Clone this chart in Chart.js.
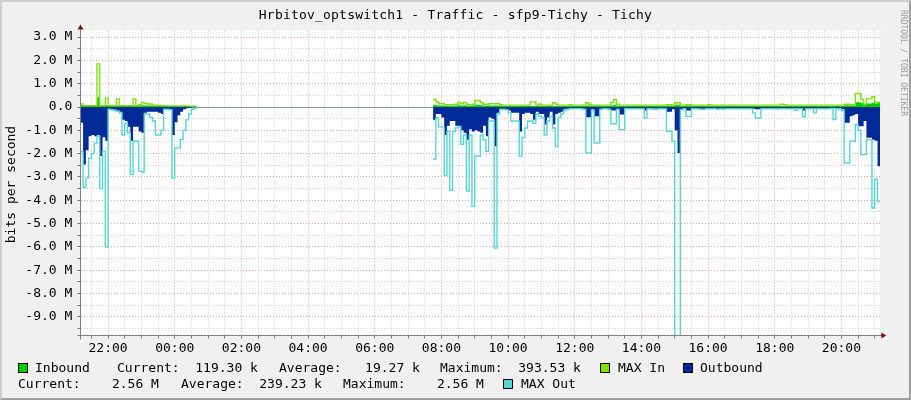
<!DOCTYPE html>
<html>
<head>
<meta charset="utf-8">
<script src="https://cdn.jsdelivr.net/npm/chart.js@4/dist/chart.umd.min.js"></script>
<style>
html,body{margin:0;padding:0;background:#F0F0F0;}
#wrap{position:relative;width:911px;height:400px;background:#F0F0F0;overflow:hidden;font-family:"DejaVu Sans Mono",monospace;color:#000;}
#c{position:absolute;left:0;top:0;}
.t{position:absolute;white-space:pre;font-size:13px;line-height:13px;}
.sq{position:absolute;width:8px;height:8px;border:1px solid #000;}
#frame{position:absolute;left:0;top:0;width:911px;height:400px;box-sizing:border-box;border-top:2px solid #CFCFCF;border-left:2px solid #CFCFCF;border-right:2px solid #9E9E9E;border-bottom:2px solid #9E9E9E;pointer-events:none;}
</style>
</head>
<body>
<div id="wrap">
<canvas id="c" width="911" height="400"></canvas>
<div class="t" style="left:0;width:911px;top:8px;text-align:center;letter-spacing:0.2px;">Hrbitov_optswitch1 - Traffic - sfp9-Tichy - Tichy</div>
<div class="t" style="left:-60px;width:140px;top:178px;text-align:center;transform:rotate(-90deg);">bits per second</div>
<div class="t" style="left:843px;width:120px;top:59px;text-align:center;font-size:8px;line-height:8px;color:#9C9C9C;transform:rotate(90deg);">RRDTOOL / TOBI OETIKER</div>

<div class="sq" style="left:18px;top:363px;background:#00CF00;"></div>
<div class="t" style="left:35px;top:361px;">Inbound</div>
<div class="t" style="left:117px;top:361px;">Current:  119.30 k</div>
<div class="t" style="left:279px;top:361px;">Average:   19.27 k</div>
<div class="t" style="left:440px;top:361px;">Maximum:  393.53 k</div>
<div class="sq" style="left:600px;top:363px;background:#7EE000;"></div>
<div class="t" style="left:618px;top:361px;">MAX In</div>
<div class="sq" style="left:683px;top:363px;background:#002A97;"></div>
<div class="t" style="left:700px;top:361px;">Outbound</div>

<div class="t" style="left:18px;top:377px;">Current:    2.56 M</div>
<div class="t" style="left:181px;top:377px;">Average:  239.23 k</div>
<div class="t" style="left:343px;top:377px;">Maximum:    2.56 M</div>
<div class="sq" style="left:503px;top:379px;background:#55D6D3;"></div>
<div class="t" style="left:521px;top:377px;">MAX Out</div>
<div id="frame"></div>
</div>
<script>
// ---- time base ----
const clockStartMinutes = 21 * 60 + 10;   // 21:10
const stepMinutes = 5;
const totalSteps = 288;                   // 24 h
const seg1Start = 0;                      // first data block (index)
const seg2Start = 127;                    // second data block (index)

// ---- tick labels ----
const xTickLabels = ['22:00','00:00','02:00','04:00','06:00','08:00','10:00','12:00','14:00','16:00','18:00','20:00'];
const yTickValues = [3, 2, 1, 0, -1, -2, -3, -4, -5, -6, -7, -8, -9];
const yTickLabels = ['3.0 M','2.0 M','1.0 M','0.0','-1.0 M','-2.0 M','-3.0 M','-4.0 M','-5.0 M','-6.0 M','-7.0 M','-8.0 M','-9.0 M'];

// ---- series values (M bits/s), 5-minute samples ----
const inboundSeg1 = [
  0.08,0.05,0.05,0.05,0.05,0.05,0.42,0.05,0.05,0.08,
  0.05,0.05,0.05,0.06,0.05,0.05,0.05,0.05,0.05,0.06,
  0.05,0.06,0.08,0.06,0.06,0.06,0.05,0.05,0.05,0.05,
  0.04,0.04,0.04,0.04,0.04,0.04,0.04,0.04,0.04,0.04,
  0.03,0.03];
const maxInSeg1 = [
  0.13,0.06,0.06,0.06,0.06,0.06,1.85,0.06,0.06,0.38,
  0.06,0.06,0.06,0.35,0.06,0.06,0.06,0.06,0.06,0.35,
  0.06,0.10,0.20,0.15,0.13,0.13,0.08,0.08,0.06,0.06,
  0.05,0.05,0.05,0.05,0.05,0.05,0.05,0.05,0.05,0.04,
  0.04,0.04];
const outboundSeg1 = [
  -0.68,-2.47,-1.85,-1.25,-1.2,-1.25,-1.2,-2.1,-1.3,-1.45,
  -0.08,-0.1,-0.12,-0.15,-0.2,-0.55,-0.6,-0.85,-1.45,-0.85,
  -0.85,-1.05,-1.1,-0.25,-0.2,-0.2,-0.2,-0.2,-0.25,-0.3,
  -0.08,-0.08,-0.1,-1.2,-0.65,-0.35,-0.2,-0.1,-0.05,-0.03,
  -0.02,-0.01];
const maxOutSeg1 = [
  -1.9,-3.45,-3.05,-2.2,-2.0,-1.55,-1.25,-3.5,-1.9,-6.0,
  -0.1,-0.12,-0.15,-0.18,-0.25,-1.2,-0.7,-1.1,-2.9,-1.47,
  -1.47,-2.75,-2.8,-0.3,-0.3,-0.45,-0.6,-1.2,-1.2,-1.0,
  -0.1,-0.1,-0.12,-3.05,-1.75,-1.75,-1.4,-1.0,-0.55,-0.3,
  -0.1,-0.05];

const inboundSeg2 = [
  0.10,0.08,0.06,0.06,0.05,0.05,0.05,0.05,0.06,0.08,
  0.06,0.08,0.06,0.05,0.06,0.10,0.10,0.08,0.06,0.06,
  0.06,0.06,0.06,0.06,0.05,0.04,0.04,0.04,0.04,0.04,
  0.04,0.04,0.04,0.04,0.04,0.04,0.04,0.04,0.04,0.04,
  0.04,0.04,0.04,0.04,0.04,0.04,0.04,0.04,0.04,0.04,
  0.04,0.04,0.04,0.04,0.04,0.06,0.06,0.04,0.05,0.05,
  0.04,0.04,0.04,0.04,0.06,0.10,0.05,0.04,0.04,0.04,
  0.04,0.04,0.04,0.04,0.04,0.04,0.04,0.04,0.04,0.04,
  0.04,0.04,0.04,0.04,0.05,0.05,0.04,0.10,0.10,0.04,
  0.04,0.07,0.07,0.04,0.04,0.04,0.04,0.04,0.04,0.04,
  0.04,0.04,0.04,0.04,0.04,0.04,0.04,0.04,0.04,0.04,
  0.04,0.04,0.04,0.04,0.04,0.04,0.04,0.04,0.04,0.04,
  0.04,0.04,0.04,0.04,0.04,0.04,0.04,0.04,0.04,0.04,
  0.04,0.04,0.04,0.04,0.04,0.04,0.04,0.04,0.04,0.04,
  0.04,0.04,0.04,0.04,0.04,0.04,0.04,0.04,0.08,0.08,
  0.06,0.06,0.20,0.20,0.18,0.10,0.15,0.15,0.18,0.15,
  0.18];
const maxInSeg2 = [
  0.32,0.22,0.14,0.14,0.10,0.10,0.10,0.10,0.12,0.20,
  0.14,0.20,0.12,0.10,0.12,0.28,0.28,0.18,0.12,0.12,
  0.14,0.14,0.14,0.14,0.10,0.08,0.08,0.08,0.08,0.08,
  0.08,0.08,0.08,0.08,0.08,0.22,0.22,0.08,0.12,0.08,
  0.08,0.08,0.08,0.18,0.12,0.08,0.08,0.08,0.08,0.10,
  0.08,0.08,0.08,0.08,0.08,0.18,0.12,0.08,0.08,0.08,
  0.08,0.08,0.08,0.08,0.20,0.32,0.12,0.08,0.08,0.08,
  0.08,0.08,0.08,0.08,0.08,0.08,0.08,0.08,0.08,0.08,
  0.08,0.08,0.08,0.08,0.10,0.10,0.08,0.18,0.18,0.08,
  0.08,0.10,0.10,0.08,0.08,0.08,0.08,0.08,0.08,0.10,
  0.08,0.08,0.08,0.08,0.08,0.08,0.08,0.08,0.08,0.08,
  0.08,0.08,0.08,0.08,0.08,0.08,0.08,0.08,0.08,0.08,
  0.08,0.08,0.08,0.08,0.08,0.12,0.10,0.08,0.08,0.08,
  0.08,0.08,0.08,0.08,0.08,0.08,0.08,0.08,0.08,0.08,
  0.08,0.08,0.08,0.08,0.08,0.08,0.08,0.08,0.12,0.12,
  0.10,0.10,0.58,0.58,0.32,0.12,0.35,0.35,0.44,0.20,
  0.20];
const outboundSeg2 = [
  -0.55,-0.3,-0.3,-0.45,-1.2,-0.8,-0.6,-0.6,-0.8,-0.8,
  -1.0,-1.1,-1.4,-0.95,-1.05,-1.0,-1.05,-1.1,-0.8,-1.25,
  -0.45,-0.5,-1.68,-0.25,-0.07,-0.07,-0.1,-0.15,-0.25,-0.25,
  -0.25,-1.05,-0.3,-0.25,-0.25,-0.3,-0.55,-0.2,-0.3,-0.3,
  -0.75,-0.45,-0.2,-0.75,-0.3,-0.25,-0.2,-0.1,-0.08,-0.06,
  -0.06,-0.05,-0.05,-0.06,-0.08,-0.44,-0.44,-0.1,-0.4,-0.4,
  -0.08,-0.06,-0.06,-0.08,-0.15,-0.15,-0.08,-0.32,-0.32,-0.06,
  -0.06,-0.06,-0.06,-0.06,-0.06,-0.06,-0.15,-0.06,-0.06,-0.06,
  -0.06,-0.06,-0.06,-0.06,-0.2,-0.2,-0.1,-1.0,-1.97,-0.1,
  -0.06,-0.15,-0.15,-0.06,-0.06,-0.06,-0.08,-0.08,-0.06,-0.06,
  -0.06,-0.06,-0.08,-0.06,-0.06,-0.06,-0.06,-0.06,-0.06,-0.06,
  -0.06,-0.06,-0.06,-0.06,-0.06,-0.08,-0.1,-0.1,-0.06,-0.06,
  -0.06,-0.06,-0.06,-0.06,-0.06,-0.06,-0.06,-0.06,-0.06,-0.06,
  -0.06,-0.06,-0.06,-0.15,-0.06,-0.06,-0.06,-0.06,-0.06,-0.06,
  -0.06,-0.06,-0.06,-0.04,-0.05,-0.05,-0.05,-0.1,-0.68,-0.68,
  -0.4,-0.35,-0.3,-0.82,-0.82,-0.6,-1.32,-1.32,-1.4,-1.45,
  -2.54];
const maxOutSeg2 = [
  -2.23,-0.47,-0.85,-0.85,-2.93,-1.05,-3.57,-1.05,-0.9,-0.85,
  -1.6,-1.2,-3.6,-1.2,-4.26,-2.1,-2.1,-1.2,-1.4,-1.9,
  -0.6,-0.6,-6.05,-0.3,-0.1,-0.1,-0.12,-0.25,-0.6,-0.6,
  -0.6,-2.1,-1.3,-0.9,-0.6,-0.6,-0.7,-0.3,-0.4,-0.45,
  -1.2,-0.6,-0.4,-0.9,-1.7,-0.45,-0.3,-0.15,-0.1,-0.08,
  -0.08,-0.07,-0.07,-0.08,-0.1,-1.97,-1.97,-0.15,-1.54,-1.54,
  -0.1,-0.08,-0.08,-0.1,-0.72,-0.72,-0.1,-0.97,-0.97,-0.08,
  -0.08,-0.08,-0.08,-0.08,-0.08,-0.08,-0.47,-0.08,-0.08,-0.1,
  -0.1,-0.08,-0.08,-0.08,-1.04,-1.04,-1.47,-10.5,-10.5,-0.12,
  -0.08,-0.4,-0.4,-0.08,-0.08,-0.08,-0.1,-0.1,-0.08,-0.08,
  -0.08,-0.08,-0.1,-0.08,-0.1,-0.08,-0.08,-0.08,-0.08,-0.08,
  -0.08,-0.08,-0.08,-0.08,-0.08,-0.25,-0.47,-0.47,-0.08,-0.08,
  -0.08,-0.08,-0.08,-0.08,-0.08,-0.08,-0.08,-0.08,-0.08,-0.08,
  -0.15,-0.08,-0.08,-0.42,-0.08,-0.08,-0.08,-0.25,-0.08,-0.08,
  -0.08,-0.08,-0.08,-0.06,-0.54,-0.1,-0.1,-0.15,-2.4,-2.4,
  -1.47,-1.47,-0.75,-1.0,-2.04,-2.04,-1.4,-1.4,-4.33,-3.1,
  -4.05];

// ---- helpers ----
function seriesFrom(seg1, seg2) {
  const arr = new Array(totalSteps).fill(null);
  seg1.forEach((v, k) => { arr[seg1Start + k] = v; });
  seg2.forEach((v, k) => { arr[seg2Start + k] = v; });
  return arr;
}
function stepPoints(arr) {
  const pts = [];
  for (let i = 0; i < arr.length; i++) {
    const v = arr[i];
    if (v === null) { pts.push({x: i * stepMinutes, y: null}); continue; }
    pts.push({x: i * stepMinutes, y: v});
    if (i === arr.length - 1 || arr[i + 1] === null) pts.push({x: (i + 1) * stepMinutes, y: v});
  }
  return pts;
}
function labelMinute(lbl) {
  const [h, m] = lbl.split(':').map(Number);
  return ((h * 60 + m - clockStartMinutes) % 1440 + 1440) % 1440;
}
const xMajor = xTickLabels.map(labelMinute);
const xTicks = [];
for (let m = xMajor[0] - 30; m < totalSteps * stepMinutes; m += 30) if (m > 0) xTicks.push(m);
const yTicks = [];
for (let k = 6; k >= -19; k--) yTicks.push(k / 2);

const majorGrid = '#EBA5A5';
const minorGrid = '#CDCDCD';
const axisColor = '#7F7F7F';
const fontSpec = {family: '"DejaVu Sans Mono", monospace', size: 13};

const bgPlugin = {
  id: 'canvasBg',
  beforeDraw(chart) {
    const {ctx, chartArea: a} = chart;
    ctx.save(); ctx.fillStyle = '#FFFFFF';
    ctx.fillRect(a.left, a.top, a.right - a.left, a.bottom - a.top);
    ctx.restore();
  }
};
const arrowPlugin = {
  id: 'arrows',
  afterDraw(chart) {
    const {ctx, chartArea: a} = chart;
    const L = Math.floor(a.left) + 0.5, B = Math.floor(a.bottom) + 0.5;
    ctx.save();
    ctx.strokeStyle = axisColor; ctx.lineWidth = 1;
    ctx.beginPath(); ctx.moveTo(L, B + 4); ctx.lineTo(L, a.top - 2); ctx.stroke();
    ctx.beginPath(); ctx.moveTo(L - 3, B); ctx.lineTo(a.right + 2, B); ctx.stroke();
    ctx.fillStyle = '#7A1010';
    ctx.beginPath(); ctx.moveTo(a.right + 6, B); ctx.lineTo(a.right + 1, B - 3); ctx.lineTo(a.right + 1, B + 3); ctx.closePath(); ctx.fill();
    ctx.beginPath(); ctx.moveTo(L, a.top - 6); ctx.lineTo(L - 3, a.top - 1); ctx.lineTo(L + 3, a.top - 1); ctx.closePath(); ctx.fill();
    ctx.restore();
  }
};

const isMajorX = v => xMajor.includes(v);
const xLabel = v => { const k = xMajor.indexOf(v); return k >= 0 ? xTickLabels[k] : ''; };
const yLabel = v => { const k = yTickValues.indexOf(v); return k >= 0 ? yTickLabels[k] : ''; };

new Chart(document.getElementById('c'), {
  type: 'line',
  data: {
    datasets: [
      {label: 'MAX Out', data: stepPoints(seriesFrom(maxOutSeg1, maxOutSeg2)), borderColor: '#55D6D3', borderWidth: 1.4, fill: false, stepped: true, spanGaps: false, order: 0},
      {label: 'Outbound', data: stepPoints(seriesFrom(outboundSeg1, outboundSeg2)), borderWidth: 0, backgroundColor: '#002A97', fill: 'origin', stepped: true, spanGaps: false, order: 1},
      {label: 'MAX In', data: stepPoints(seriesFrom(maxInSeg1, maxInSeg2)), borderColor: '#7EE000', borderWidth: 1.4, fill: false, stepped: true, spanGaps: false, order: 2},
      {label: 'Inbound', data: stepPoints(seriesFrom(inboundSeg1, inboundSeg2)), borderWidth: 0, backgroundColor: '#00CF00', fill: 'origin', stepped: true, spanGaps: false, order: 3}
    ]
  },
  options: {
    responsive: false, animation: false, devicePixelRatio: 1,
    layout: {padding: {left: 0, top: 30.5, right: 30.7, bottom: 44.4}},
    elements: {point: {radius: 0}, line: {tension: 0}},
    plugins: {legend: {display: false}, title: {display: false}, tooltip: {enabled: false}},
    scales: {
      x: {
        type: 'linear', min: 0, max: totalSteps * stepMinutes,
        afterBuildTicks: s => { s.ticks = xTicks.map(v => ({value: v})); },
        afterFit: s => { s.height = 20; },
        ticks: {autoSkip: false, maxRotation: 0, minRotation: 0, padding: 2, font: fontSpec, color: '#000', callback: v => xLabel(v)},
        grid: {color: c => (c.tick && isMajorX(c.tick.value)) ? majorGrid : minorGrid, lineWidth: 1, drawTicks: true, tickLength: 3, tickColor: axisColor},
        border: {display: true, color: axisColor, width: 1, dash: c => c.type === 'tick' ? [1, 2] : []}
      },
      y: {
        type: 'linear', min: -9.8, max: 3.28,
        afterBuildTicks: s => { s.ticks = yTicks.map(v => ({value: v})); },
        afterFit: s => { s.width = 80.3; },
        ticks: {autoSkip: false, padding: 5, font: fontSpec, color: '#000', callback: v => yLabel(v)},
        grid: {color: c => { if (!c.tick) return minorGrid; const v = c.tick.value; if (v === 0) return '#8A9AA4'; return Number.isInteger(v) ? majorGrid : minorGrid; }, lineWidth: 1, drawTicks: true, tickLength: 3, tickColor: axisColor},
        border: {display: true, color: axisColor, width: 1, dash: c => (c.type === 'tick' && c.tick && c.tick.value !== 0) ? [1, 2] : []}
      }
    }
  },
  plugins: [bgPlugin, arrowPlugin]
});
</script>
</body>
</html>
